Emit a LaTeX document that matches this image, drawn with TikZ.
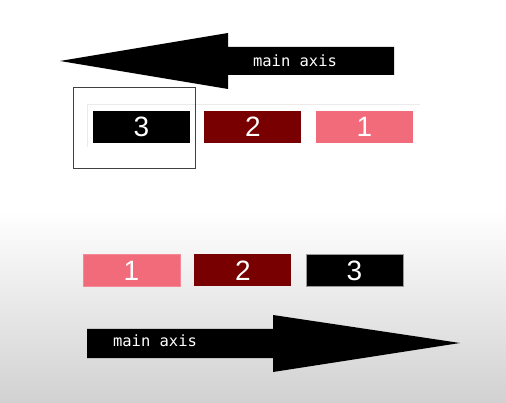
\documentclass[tikz,border=0pt]{standalone}
\usepackage{fontspec}
\usepackage{xcolor}
\usepackage{tikz}
\usetikzlibrary{positioning}
\newfontfamily\digitfont{Liberation Sans}
\newfontfamily\axisfont{DejaVu Sans Mono}
\definecolor{maroonbox}{HTML}{780000}
\definecolor{pinkbox}{HTML}{F16B7B}

\begin{document}
\begin{tikzpicture}[
  x=1pt, y=-1pt,
  node distance=14pt,
  box/.style={
    rectangle, inner sep=0pt, minimum width=97pt, minimum height=32pt,
    text=white, font=\digitfont\fontsize{28}{28}\selectfont
  },
  axislabel/.style={inner sep=0pt, text=white, font=\axisfont\fontsize{15.5}{16}\selectfont},
  bigarrow/.style={fill=black}
]
\useasboundingbox (0,0) rectangle (506,403);
% background
\fill[white] (0,0) rectangle (506,210);
\shade[top color=white, bottom color=black!18] (0,210) rectangle (506,403);

% reversed main axis
\fill[bigarrow] (394,47) -- (228,47) -- (228,33) -- (60,61) -- (228,89) -- (228,75) -- (394,75) -- cycle;
\node[axislabel] (topaxis) at (295,61) {main axis};

\draw[black!8] (87,147) -- (87,104) -- (420,104);
\node[box, fill=black] (tthree) at (141.5,127) {3};
\node[box, fill=maroonbox, right=of tthree] (ttwo) {2};
\node[box, fill=pinkbox, right=of ttwo] (tone) {1};
\node[draw=black!75, line width=1.5pt, minimum width=122pt, minimum height=81pt] (frame) at (134.5,128) {};

% normal main axis
\node[box, fill=pinkbox, draw=pinkbox!80!white] (bone) at (131.5,270.5) {1};
\node[box, fill=maroonbox, right=of bone] (btwo) {2};
\node[box, fill=black, draw=black!40, right=of btwo] (bthree) {3};

\fill[bigarrow] (87,329) -- (273,329) -- (273,315) -- (460,343) -- (273,372) -- (273,358) -- (87,358) -- cycle;
\node[axislabel] (bottomaxis) at (155,341) {main axis};
\end{tikzpicture}
\end{document}
